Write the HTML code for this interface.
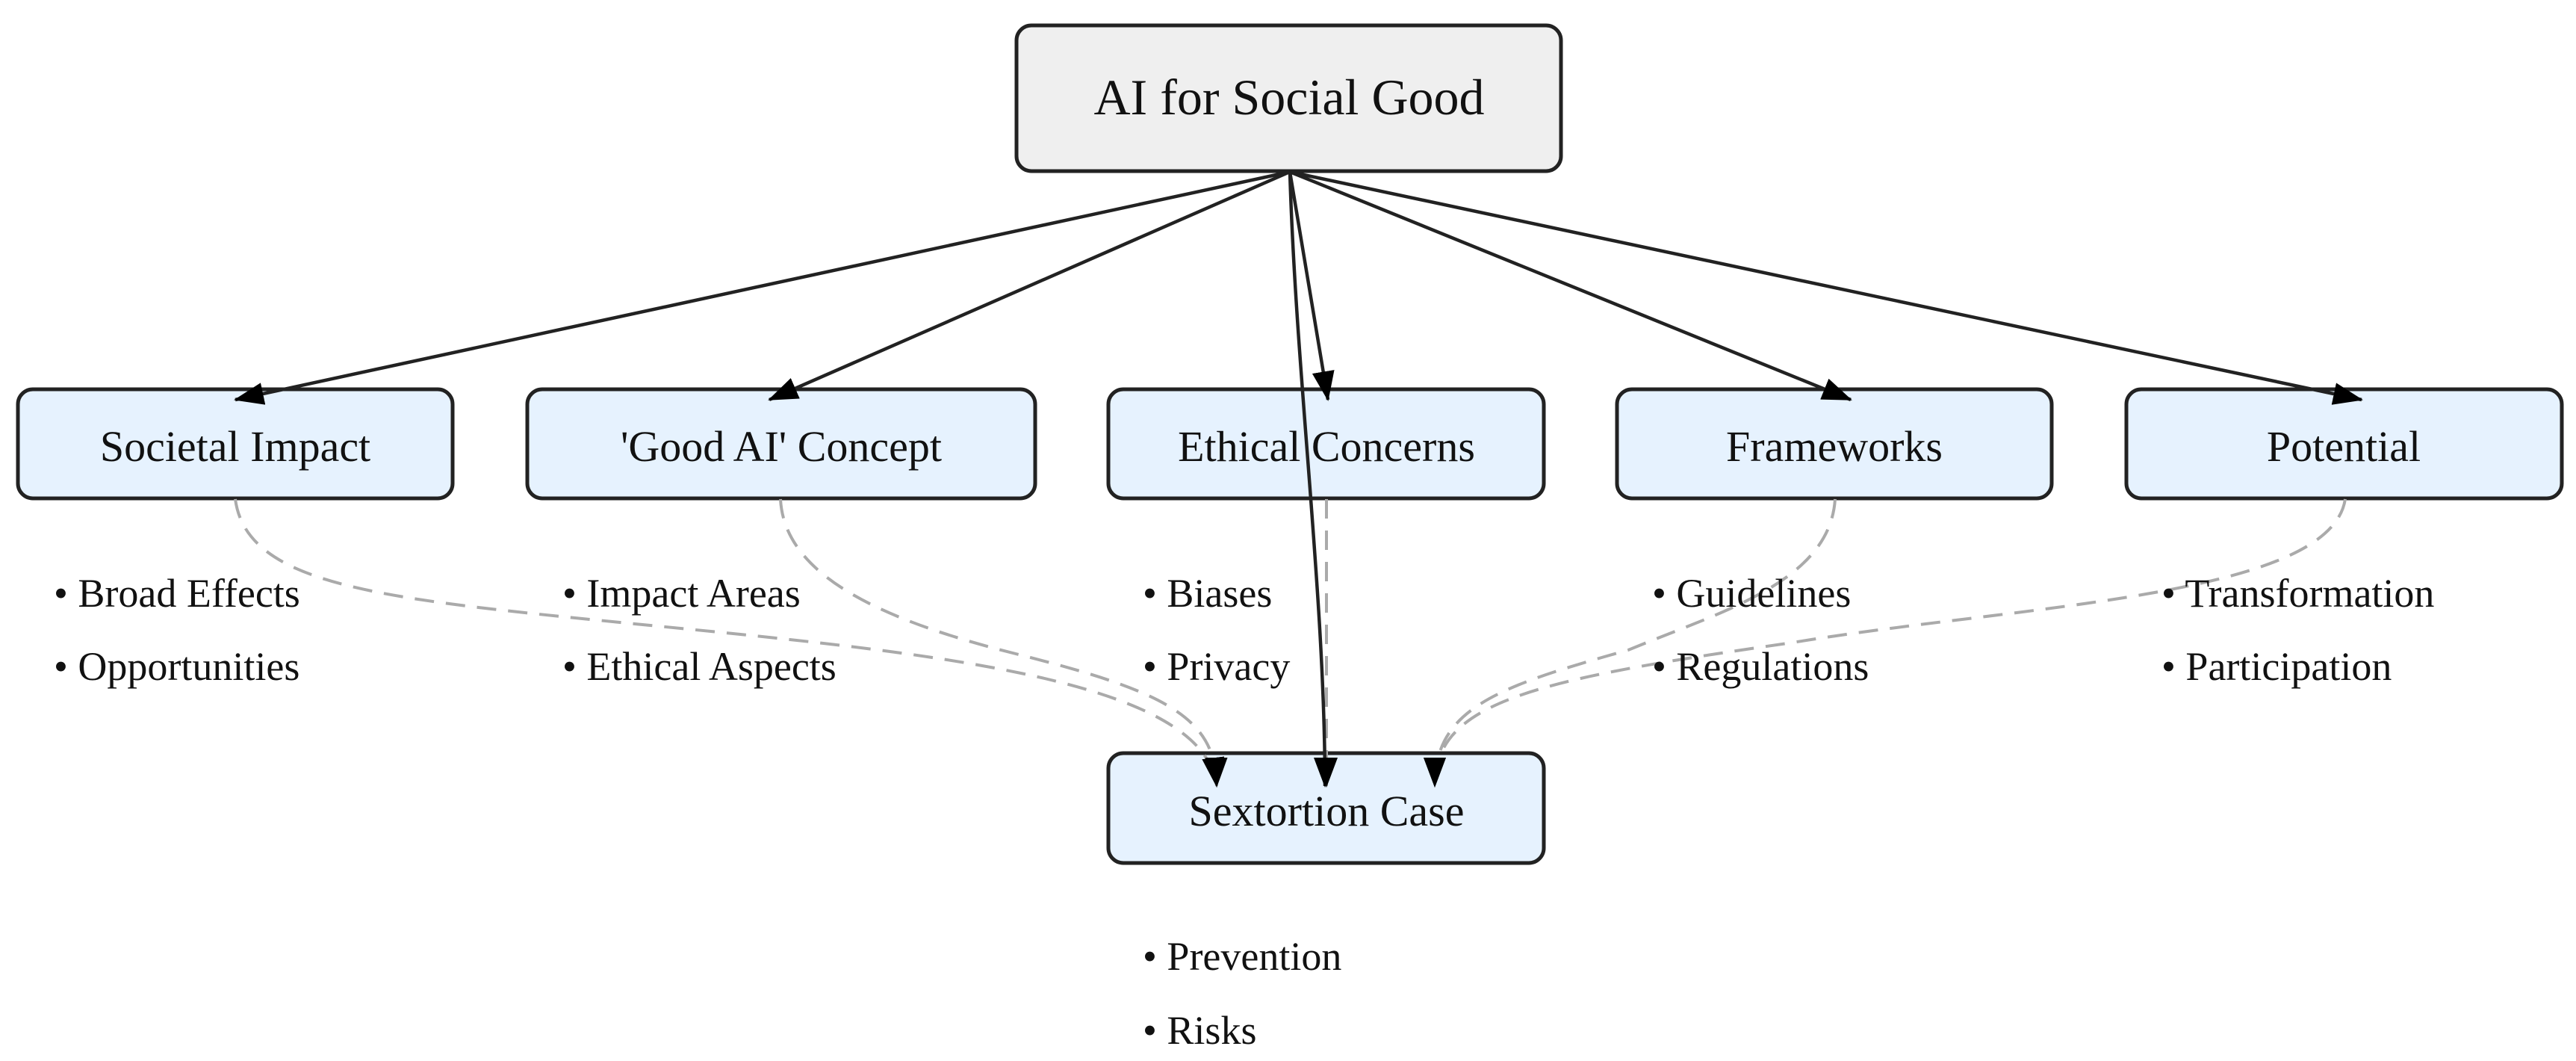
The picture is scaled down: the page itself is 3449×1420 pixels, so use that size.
<!DOCTYPE html>
<html><head><meta charset="utf-8"><style>
html,body{margin:0;padding:0;background:#fff;}
svg{display:block;}
text{font-family:"Liberation Serif",serif;fill:#111;}
</style></head><body>
<svg width="3449" height="1420" viewBox="0 0 3449 1420" xmlns="http://www.w3.org/2000/svg">
<defs>
<marker id="a" viewBox="0 0 40 30" refX="38" refY="15" markerWidth="40" markerHeight="30" markerUnits="userSpaceOnUse" orient="auto"><path d="M0,0L40,15L0,30z" fill="#000" stroke="none"/></marker>
</defs>
<g stroke="#222" stroke-width="5">
<rect x="1361" y="34" width="729" height="195" rx="20" fill="#efefef"/>
<rect x="24" y="521" width="582" height="146" rx="20" fill="#e6f2fe"/>
<rect x="706" y="521" width="680" height="146" rx="20" fill="#e6f2fe"/>
<rect x="1484" y="521" width="583" height="146" rx="20" fill="#e6f2fe"/>
<rect x="2165" y="521" width="582" height="146" rx="20" fill="#e6f2fe"/>
<rect x="2847" y="521" width="583" height="146" rx="20" fill="#e6f2fe"/>
<rect x="1484" y="1008" width="583" height="147" rx="20" fill="#e6f2fe"/>
</g>
<g text-anchor="middle" font-size="58">
<text x="1726" y="153" font-size="68">AI for Social Good</text>
<text x="315" y="617">Societal Impact</text>
<text x="1046" y="617">'Good AI' Concept</text>
<text x="1776" y="617">Ethical Concerns</text>
<text x="2456" y="617">Frameworks</text>
<text x="3138" y="617">Potential</text>
<text x="1776" y="1105">Sextortion Case</text>
</g>
<g fill="none" stroke="#aaa" stroke-width="4" stroke-dasharray="26,16" marker-end="url(#a)">
<path d="M315,668 C330,780 500,800 800,830 C1200,870 1610,900 1629,1052"/>
<path d="M1045,668 C1050,770 1180,830 1360,875 C1560,925 1628,960 1629,1052"/>
<path d="M1776,668 L1776,1052"/>
<path d="M2457,668 C2450,780 2300,820 2180,870 C2000,920 1921,950 1921,1052"/>
<path d="M3140,668 C3120,800 2700,810 2400,860 C2050,910 1921,940 1921,1052"/>
</g>
<g fill="none" stroke="#222" stroke-width="4.5" marker-end="url(#a)">
<path d="M1727,230 L315,535"/>
<path d="M1727,230 L1030,535"/>
<path d="M1727,230 L1778,535"/>
<path d="M1727,230 L2478,535"/>
<path d="M1727,230 L3162,535"/>
<path d="M1727,230 C1735,500 1774,800 1774,1052"/>
</g>
<g font-size="54">
<text x="72" y="812">• Broad Effects</text>
<text x="72" y="910">• Opportunities</text>
<text x="753" y="812">• Impact Areas</text>
<text x="753" y="910">• Ethical Aspects</text>
<text x="1530" y="812">• Biases</text>
<text x="1530" y="910">• Privacy</text>
<text x="2212" y="812">• Guidelines</text>
<text x="2212" y="910">• Regulations</text>
<text x="2894" y="812">• Transformation</text>
<text x="2894" y="910">• Participation</text>
<text x="1530" y="1298">• Prevention</text>
<text x="1530" y="1397">• Risks</text>
</g>
</svg>
</body></html>
